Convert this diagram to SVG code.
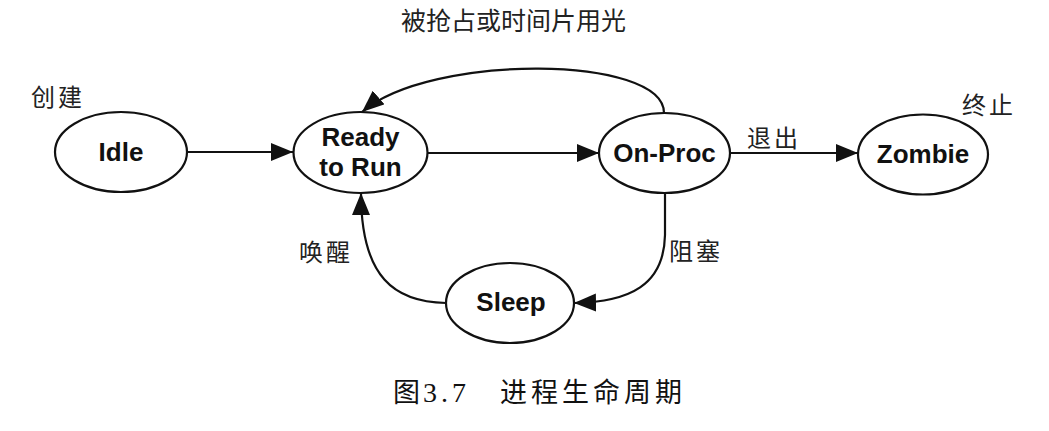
<svg xmlns="http://www.w3.org/2000/svg" width="1049" height="431" viewBox="0 0 1049 431">
<style>
.node ellipse{fill:#fff;stroke:#111;stroke-width:2.2}
.node text{font-family:"Liberation Sans",Arial,sans-serif;font-weight:bold;font-size:26px;fill:#111;text-anchor:middle}
.edge{fill:none;stroke:#111;stroke-width:2.2}
.lbl{font-family:"Noto Sans CJK SC",sans-serif;font-size:24px;fill:#222;letter-spacing:3px}
.cap{font-family:"Noto Sans CJK SC",sans-serif;font-size:27px;fill:#111}
</style>
<defs>
<marker id="arr" markerUnits="userSpaceOnUse" markerWidth="24" markerHeight="20" viewBox="0 0 24 20" refX="22" refY="9" orient="auto">
<path d="M0,0 L22,9 L0,18 Z" fill="#111"/>
</marker>
</defs>
<rect width="1049" height="431" fill="#fff"/>
<g id="connectors">
<path class="edge" d="M188,152 L293,152" marker-end="url(#arr)"/>
<path class="edge" d="M427,153 L599,153" marker-end="url(#arr)"/>
<path class="edge" d="M730,153 L858,153" marker-end="url(#arr)"/>
<path class="edge" d="M664,113 C664,55 430,53 362,112" marker-end="url(#arr)"/>
<path class="edge" d="M665,193 L665,235 C664,285 630,302 574,303" marker-end="url(#arr)"/>
<path class="edge" d="M446,303 C395,302 361,278 361,193" marker-end="url(#arr)"/>
</g>
<g id="idle" class="node"><ellipse cx="121" cy="152" rx="66" ry="40"/><text x="121" y="161">Idle</text></g>
<g id="ready" class="node"><ellipse cx="360.5" cy="152.5" rx="67" ry="40.5"/><text x="360.5" y="146">Ready</text><text x="360.5" y="176">to Run</text></g>
<g id="onproc" class="node"><ellipse cx="664.5" cy="153" rx="65.5" ry="40"/><text x="664.5" y="162">On-Proc</text></g>
<g id="zombie" class="node"><ellipse cx="923" cy="154.5" rx="65" ry="40"/><text x="923" y="163">Zombie</text></g>
<g id="sleep" class="node"><ellipse cx="510" cy="303" rx="64" ry="40"/><text x="511" y="311">Sleep</text></g>
<g id="labels">
<text class="lbl" x="401" y="30" style="font-size:25px;letter-spacing:0px">被抢占或时间片用光</text>
<text class="lbl" x="31" y="106">创建</text>
<text class="lbl" x="747" y="147">退出</text>
<text class="lbl" x="962" y="114">终止</text>
<text class="lbl" x="299" y="261">唤醒</text>
<text class="lbl" x="669" y="260">阻塞</text>
</g>
<g id="caption">
<text class="cap" x="393" y="402">图</text>
<text x="423" y="402" style="font-family:'Liberation Serif',serif;font-size:28px;fill:#111;letter-spacing:4px">3.7</text>
<text class="cap" x="500" y="402" style="letter-spacing:4px">进程生命周期</text>
</g>
</svg>
